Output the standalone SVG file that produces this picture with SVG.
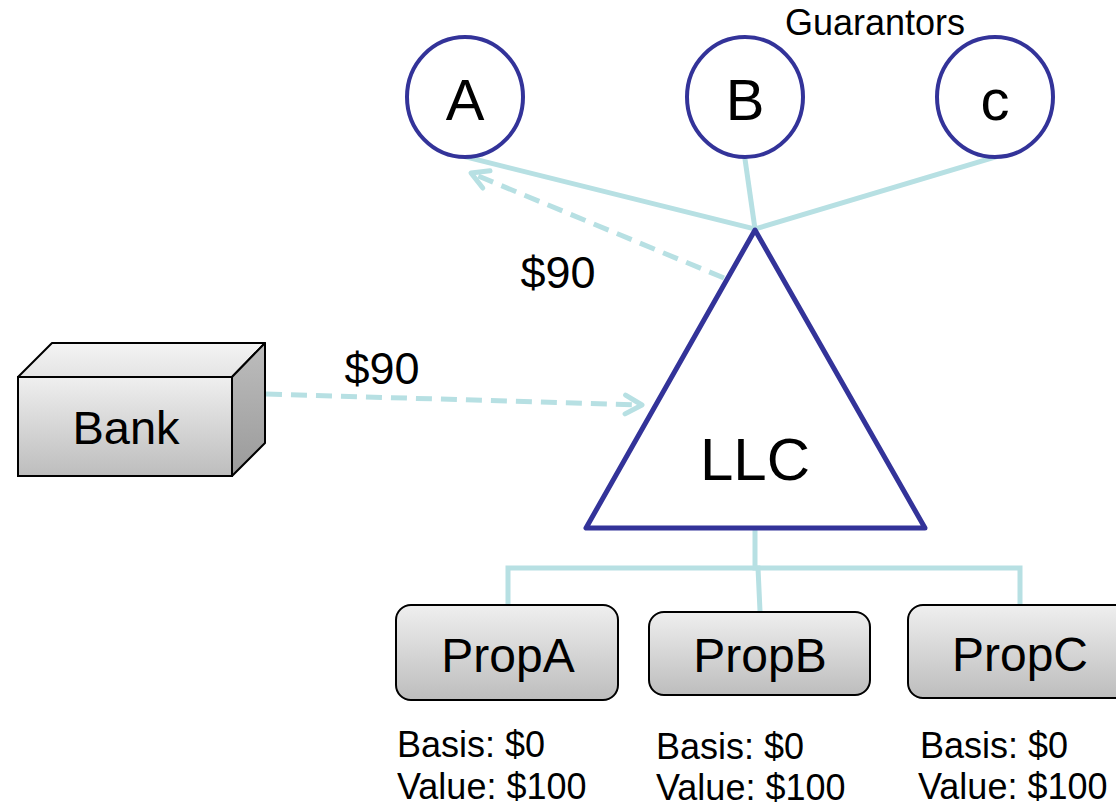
<svg xmlns="http://www.w3.org/2000/svg" width="1116" height="807" viewBox="0 0 1116 807">
  <style>
    text { font-family: "Liberation Sans", Arial, sans-serif; fill: #000; }
    .guar { fill: #fff; stroke: #333399; stroke-width: 4; }
    .link { fill: none; stroke: #b7e0e3; stroke-width: 5; stroke-linecap: square; }
    .flow { fill: none; stroke: #b7e0e3; stroke-width: 5; stroke-dasharray: 16 9; }
    .box { fill: url(#grey); stroke: #000; stroke-width: 2; }
    .note { font-size: 36px; }
  </style>
  <defs>
    <linearGradient id="grey" x1="0" y1="0" x2="0" y2="1">
      <stop offset="0" stop-color="#efefef"/>
      <stop offset="1" stop-color="#bdbdbd"/>
    </linearGradient>
    <linearGradient id="greyTop" x1="0" y1="0" x2="0" y2="1">
      <stop offset="0" stop-color="#f4f4f4"/>
      <stop offset="1" stop-color="#e4e4e4"/>
    </linearGradient>
    <linearGradient id="greySide" x1="0" y1="0" x2="0" y2="1">
      <stop offset="0" stop-color="#bdbdbd"/>
      <stop offset="1" stop-color="#9a9a9a"/>
    </linearGradient>
    <marker id="open" viewBox="0 0 12 12" refX="10" refY="6" markerWidth="5" markerHeight="5" orient="auto" markerUnits="strokeWidth">
      <path d="M2,1.5 L10,6 L2,10.5" fill="none" stroke="#b7e0e3" stroke-width="2.4" stroke-linecap="round" stroke-linejoin="round"/>
    </marker>
  </defs>

  <!-- connectors -->
  <g id="connectors">
    <line class="link" x1="466" y1="157" x2="755" y2="229"/>
    <line class="link" x1="745" y1="159" x2="755" y2="229"/>
    <line class="link" x1="995" y1="157" x2="755" y2="229"/>
    <line class="flow" x1="724" y1="278" x2="471" y2="173" marker-end="url(#open)"/>
    <line class="flow" x1="266" y1="394" x2="642" y2="405" marker-end="url(#open)"/>
    <polyline class="link" points="755,532 755,568"/>
    <polyline class="link" points="508,604 508,568 1020,568 1020,604" stroke-linecap="butt"/>
    <line class="link" x1="758" y1="568" x2="760" y2="611" stroke-linecap="butt"/>
  </g>

  <!-- guarantors -->
  <text x="875" y="35" font-size="36" text-anchor="middle">Guarantors</text>
  <g id="guarantorA">
    <ellipse class="guar" cx="465" cy="97" rx="58" ry="60"/>
    <text x="465" y="120" font-size="58" text-anchor="middle">A</text>
  </g>
  <g id="guarantorB">
    <ellipse class="guar" cx="745" cy="97" rx="58" ry="60"/>
    <text x="745" y="120" font-size="58" text-anchor="middle">B</text>
  </g>
  <g id="guarantorC">
    <ellipse class="guar" cx="995" cy="97" rx="58" ry="60"/>
    <text x="995" y="120" font-size="58" text-anchor="middle">c</text>
  </g>

  <!-- flow amounts -->
  <text x="558" y="288" font-size="45" text-anchor="middle">$90</text>
  <text x="382" y="384" font-size="45" text-anchor="middle">$90</text>

  <!-- LLC -->
  <g id="llc">
    <polygon points="755,230 586,528 925,528" fill="#fff" stroke="#333399" stroke-width="5" stroke-linejoin="round"/>
    <text x="755" y="480" font-size="60" text-anchor="middle">LLC</text>
  </g>

  <!-- Bank -->
  <g id="bank">
    <polygon points="18,377 52,343 265,343 232,377" fill="url(#greyTop)" stroke="#000" stroke-width="2" stroke-linejoin="round"/>
    <polygon points="232,377 265,343 265,443 232,476" fill="url(#greySide)" stroke="#000" stroke-width="2" stroke-linejoin="round"/>
    <rect x="18" y="377" width="214" height="99" fill="url(#grey)" stroke="#000" stroke-width="2"/>
    <text x="126" y="444" font-size="47" text-anchor="middle">Bank</text>
  </g>

  <!-- properties -->
  <g id="propA">
    <rect class="box" x="396" y="605" width="222" height="95" rx="15"/>
    <text x="508" y="672" font-size="48" text-anchor="middle">PropA</text>
    <text class="note" x="397" y="757">Basis: $0</text>
    <text class="note" x="397" y="799">Value: $100</text>
  </g>
  <g id="propB">
    <rect class="box" x="649" y="612" width="221" height="83" rx="15"/>
    <text x="760" y="672" font-size="48" text-anchor="middle">PropB</text>
    <text class="note" x="656" y="759">Basis: $0</text>
    <text class="note" x="656" y="800">Value: $100</text>
  </g>
  <g id="propC">
    <rect class="box" x="908" y="605" width="222" height="93" rx="15"/>
    <text x="1020" y="671" font-size="48" text-anchor="middle">PropC</text>
    <text class="note" x="920" y="758">Basis: $0</text>
    <text class="note" x="918" y="799" font-size="35">Value: $100</text>
  </g>
</svg>
